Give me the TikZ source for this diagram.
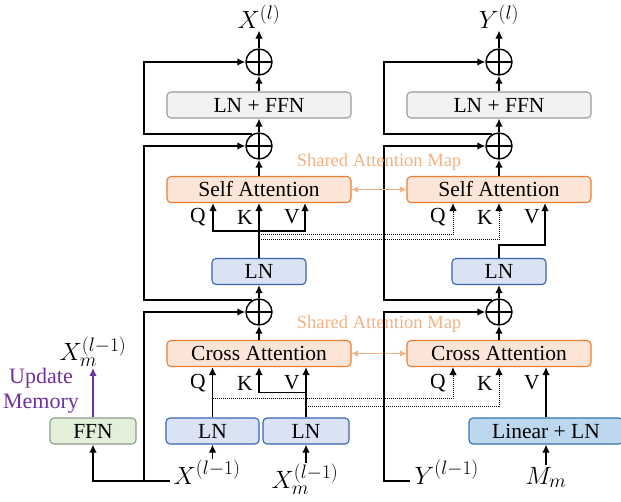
\documentclass[tikz,border=0pt]{standalone}
\usepackage{fix-cm}
\usepackage{fontspec}
\setmainfont{Liberation Serif}
\usetikzlibrary{arrows.meta}
\usetikzlibrary{calc,positioning}
\DeclareMathSizes{25}{25}{19.5}{14}

\definecolor{attfill}{HTML}{FBE5D6}
\definecolor{attline}{HTML}{ED7D31}
\definecolor{lnfill}{HTML}{DAE3F3}
\definecolor{lnline}{HTML}{3A62AE}
\definecolor{linfill}{HTML}{BDD7EE}
\definecolor{linline}{HTML}{2E75B6}
\definecolor{ffnfill}{HTML}{F2F2F2}
\definecolor{ffnline}{HTML}{9A9A9A}
\definecolor{memfill}{HTML}{E2F0D9}
\definecolor{memline}{HTML}{8F9A8A}
\definecolor{sharecol}{HTML}{F4B183}
\definecolor{updcol}{HTML}{7030A0}

\tikzset{
 blk/.style={draw, rounded corners=4pt, line width=1.1pt, minimum height=26pt, inner sep=0pt, font=\fontsize{21.5}{25}\selectfont},
 attbox/.style={blk, fill=attfill, draw=attline, minimum width=184pt},
 ffnbox/.style={blk, fill=ffnfill, draw=ffnline, minimum width=184pt},
 lnbox/.style={blk, fill=lnfill, draw=lnline},
 linbox/.style={blk, fill=linfill, draw=linline},
 membox/.style={blk, fill=memfill, draw=memline},
 addop/.style={circle, draw, fill=white, minimum size=26pt, inner sep=0pt, line width=1.4pt,
  path picture={\draw[line width=1.4pt] (path picture bounding box.north) -- (path picture bounding box.south)
   (path picture bounding box.west) -- (path picture bounding box.east);}},
 qkv/.style={font=\fontsize{21.5}{25}\selectfont, inner sep=0pt},
 mlbl/.style={font=\fontsize{25}{29}\selectfont, inner sep=1pt},
 share/.style={sharecol, line width=1.1pt, {Latex[length=6.5pt,width=6.5pt]}-{Latex[length=6.5pt,width=6.5pt]}},
 shtxt/.style={sharecol, font=\fontsize{18.5}{22}\selectfont},
 dotline/.style={densely dotted, line width=1pt},
}

\begin{document}
\begin{tikzpicture}[x=1pt, y=-1pt, >={Latex[length=8pt,width=7.5pt]}, line width=1.4pt]
\useasboundingbox (0,0) rectangle (621,502);
\coordinate (railL) at (144,0);
\coordinate (railR) at (384,0);
\foreach \c/\x in {L/259,R/499} {
 \node[addop] (add\c1) at (\x,62) {};
 \node[addop] (add\c2) at (\x,146) {};
 \node[addop] (add\c3) at (\x,312) {};
 \node[ffnbox] (ffn\c) at (\x,105) {LN + FFN};
 \node[attbox] (sa\c) at (\x,189.5) {Self Attention};
 \node[lnbox, minimum width=94pt] (ln\c) at (\x,271.5) {LN};
 \node[attbox] (ca\c) at (\x,353.5) {Cross Attention};
 \draw[->] (ffn\c) -- (add\c1);
 \draw[->] (add\c2) -- (ffn\c);
 \draw[->] (sa\c) -- (add\c2);
 \draw[->] (add\c3) -- (ln\c);
 \draw[->] (ca\c) -- (add\c3);
 \draw[->] (add\c2.120) -- (add\c2.120 -| rail\c) |- (add\c1);
 \draw[->] (add\c3.120) -- (add\c3.120 -| rail\c) |- (add\c2);
 \foreach \y in {217,383} {
  \node[qkv] at (\x-61,\y) {Q};
  \node[qkv] at (\x-14,\y) {K};
  \node[qkv] at (\x+33,\y) {V};
 }
}
\node[shtxt] at (379,162) {Shared Attention Map};
\node[shtxt] at (379,324) {Shared Attention Map};
\draw[share] (saL) -- (saR);
\draw[share] (caL) -- (caR);

% self attention inputs
\draw[->] (lnL) -- (saL);
\draw[->] (lnL.north) -- ++(0,-27) -| ([xshift=-46pt]saL.south);
\draw[->] (lnL.north) -- ++(0,-27) -| ([xshift=46pt]saL.south);
\draw[->] (lnR.north) -- ++(0,-13) -| ([xshift=46pt]saR.south);
\draw[->, dotline] (lnL.north) ++(0,-23) -| ([xshift=-46pt]saR.south);
\draw[->, dotline] (lnL.north) ++(0,-18) -| (saR.south);

% cross attention inputs
\node[lnbox, minimum width=93pt] (lnA) at (212.5,431) {LN};
\node[lnbox, minimum width=86pt] (lnB) at (306,431) {LN};
\node[linbox, minimum width=154pt] (linR) at (546,431) {Linear + LN};
\node[membox, minimum width=86pt] (ffnM) at (93,431) {FFN};
\draw[->] (lnA) -- (lnA |- caL.south);
\draw[->] (lnB) -- (lnB |- caL.south);
\draw[->] ([yshift=25pt]lnB.north) -| (caL.south);
\draw[->] (linR) -- (linR |- caR.south);
\draw[->, dotline] ([yshift=19pt]lnA.north) -| ([xshift=-46pt]caR.south);
\draw[->, dotline] ([yshift=11pt]lnB.north) -| (caR.south);

% outputs and inputs
\node[mlbl] (xl) at (259,17) {$X^{(l)}$};
\node[mlbl] (yl) at (499,17) {$Y^{(l)}$};
\draw[->] (addL1) -- (xl);
\draw[->] (addR1) -- (yl);
\coordinate (xin) at (170,481);
\coordinate (yin) at (410,481);
\node[mlbl, anchor=base west] (xprev) at (172,484) {$X^{(l-1)}$};
\node[mlbl, anchor=base] (xmprev) at (305,488) {$X_m^{(l-1)}$};
\node[mlbl, anchor=base west] (yprev) at (413,484) {$Y^{(l-1)}$};
\node[mlbl, anchor=base] (mm) at (546,484) {$M_m$};
\draw[->] (lnA |- xprev.north) -- (lnA);
\draw[->] (lnB |- xmprev.north) -- (lnB);
\draw[->] (linR |- mm.north) -- (linR);
\draw[->] (xin) -- (xin -| railL) |- (addL3);
\draw[->] (xin) -| (ffnM);
\draw[->] (yin) -- (yin -| railR) |- (addR3);

% memory update
\node[mlbl, anchor=south] (xmem) at (93,368) {$X_m^{(l-1)}$};
\draw[->, updcol, line width=1.1pt] (ffnM) -- (xmem);
\node[updcol, align=center, font=\fontsize{22}{25}\selectfont] at (41,391) {Update\\Memory};
\end{tikzpicture}
\end{document}
